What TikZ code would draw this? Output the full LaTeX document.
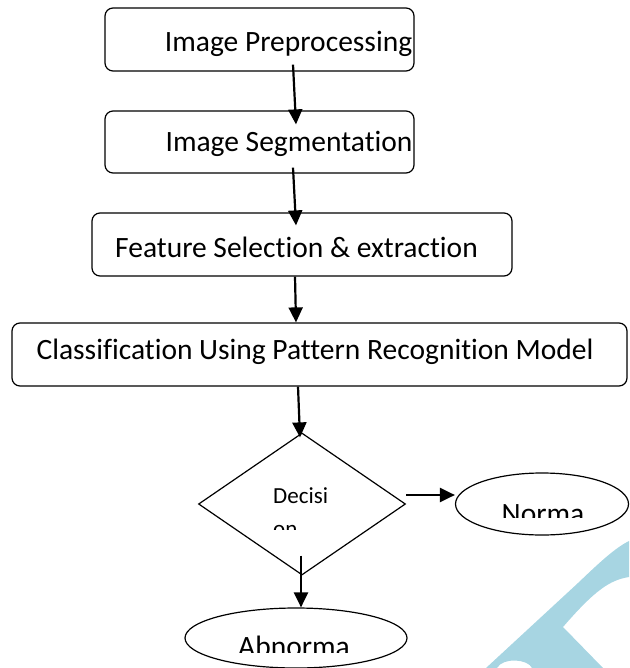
\documentclass[tikz,border=0pt]{standalone}
\usepackage{fontspec}
\setmainfont{Carlito}[Ligatures=NoCommon]
\usetikzlibrary{shapes.geometric,arrows.meta}

\definecolor{wmblue}{RGB}{167,213,226}

\tikzset{
  stage/.style={draw, rounded corners=8pt, line width=1.2pt, inner sep=0pt},
  oval/.style={draw, ellipse, line width=1.2pt, inner sep=0pt},
  choice/.style={draw, diamond, line width=1.2pt, inner sep=0pt},
  lbl/.style={inner sep=0pt, anchor=base, font=\fontsize{29.5}{35}\selectfont},
  small/.style={inner sep=0pt, anchor=base west, font=\fontsize{23}{28}\selectfont},
  flow/.style={line width=2.2pt, -{Triangle[length=15pt,width=14pt]}}
}

\begin{document}
\begin{tikzpicture}[x=1pt,y=-1pt]
  \useasboundingbox (0,0) rectangle (629,668);

  % watermark in the corner
  \fill[wmblue] (486,668) -- (578,583) .. controls (600,562) and (615,548) .. (629,541)
    -- (629,577) .. controls (610,580) and (595,590) .. (563,627) -- (603,668)
    -- (532,668) .. controls (528,659) and (503,657) .. (497,668) -- cycle;

  % the four stages
  \node[stage, minimum width=309pt, minimum height=63pt] (pre) at (259.5,39.5) {};
  \node[lbl] (pretxt) at (288.5,52) {Image Preprocessing};

  \node[stage, minimum width=309pt, minimum height=62pt] (seg) at (259.5,142) {};
  \node[lbl] (segtxt) at (289,152) {Image Segmentation};

  \node[stage, minimum width=420pt, minimum height=63pt] (feat) at (302,244.5) {};
  \node[lbl] (feattxt) at (296.5,257) {Feature Selection \& extraction};

  \node[stage, minimum width=615pt, minimum height=63pt] (cls) at (319.5,354.5) {};
  \node[lbl] (clstxt) at (315,359) {Classification Using Pattern Recognition Model};

  % decision and outcomes
  \node[choice, minimum width=207pt, minimum height=142pt] (dec) at (302,504) {};
  \node[oval, minimum width=173pt, minimum height=62pt] (norm) at (542,504) {};
  \node[oval, minimum width=222pt, minimum height=60pt] (abn) at (296,638) {};

  \begin{scope}
    \clip (200,430) rectangle (410,529);
    \node[small] (dectxt) at (273,503) {Decisi};
    \node[small] (dectxt2) at (273,536) {on};
  \end{scope}
  \begin{scope}
    \clip (460,480) rectangle (625,517);
    \node[lbl] (normtxt) at (543,523) {Norma};
  \end{scope}
  \begin{scope}
    \clip (190,610) rectangle (400,652);
    \node[lbl] (abntxt) at (294,656) {Abnorma};
  \end{scope}

  % arrows
  \draw[flow] ([xshift=33.5pt,yshift=7pt]pre.south) -- ([xshift=36.5pt,yshift=-14pt]seg.north);
  \draw[flow] ([xshift=33.5pt,yshift=6pt]seg.south) -- ([xshift=-6pt,yshift=-13pt]feat.north);
  \draw[flow] ([xshift=-7pt]feat.south) -- ([xshift=-23.5pt]cls.north);
  \draw[flow] ([xshift=-21.5pt]cls.south) -- ([xshift=-2pt,yshift=-5pt]dec.north);
  \draw[flow] ([yshift=9pt]dec.east) -- ([yshift=9pt]norm.west);
  \draw[flow] ([xshift=-1pt,yshift=20pt]dec.south) -- ([xshift=5pt]abn.north);
\end{tikzpicture}
\end{document}
